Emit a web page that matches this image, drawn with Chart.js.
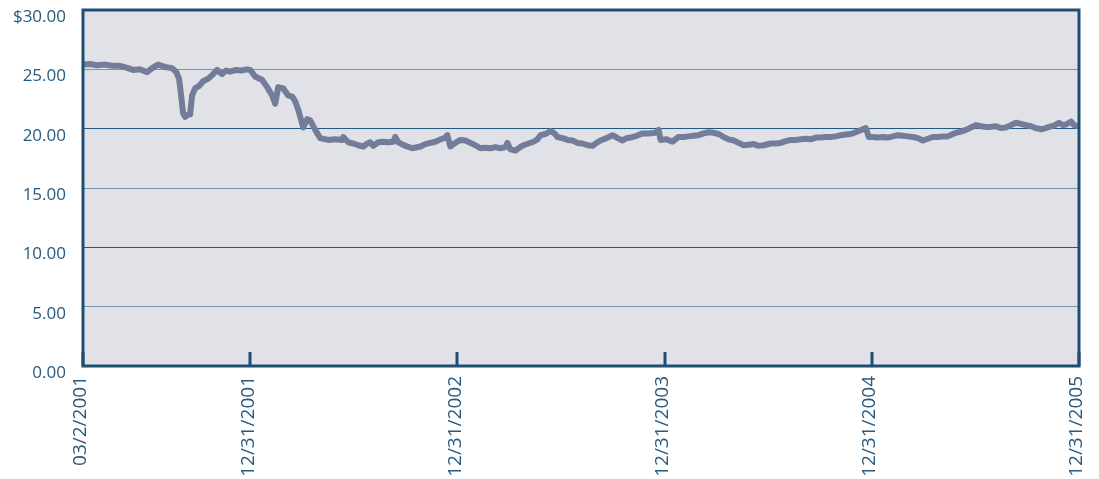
<!DOCTYPE html>
<html>
<head>
<meta charset="utf-8">
<script src="https://cdn.jsdelivr.net/npm/chart.js@4/dist/chart.umd.min.js"></script>
<style>
  html, body { margin: 0; padding: 0; background: #ffffff; }
  #wrap { width: 1099px; height: 479px; position: relative; }
</style>
</head>
<body>
<div id="wrap"><canvas id="c" width="1099" height="479"></canvas></div>
<script>
// Share price, sampled in trading weeks from 03/2/2001
const weeks = [
  0, 1.75, 3.5, 5.5, 7.25, 9.25, 11.25, 12.5, 14.25, 16, 17.25, 18.75, 20.5, 22.25, 23.25, 24, 24.5, 25, 25.5, 26.25,
  26.75, 27.25, 28, 29, 30, 31.25, 32.5, 33.5, 34.75, 35.75, 36.75, 38.25, 39.5, 41, 41.75, 43, 44.75, 46, 47.25, 48,
  48.75, 50, 51.25, 52.25, 53, 53.75, 54.25, 55, 56, 56.75, 58, 59.25, 61.25, 63, 64.75, 65, 66.25, 67.5, 68.75, 70,
  71, 71.75, 72.5, 73.75, 75, 76.25, 77.5, 78, 78.75, 80.5, 82.25, 84.25, 85.5, 86.75, 88, 89.25, 90.25, 91, 91.75, 93,
  94.25, 95.5, 96.75, 98, 99.25, 100.5, 101.75, 103, 104.25, 105.5, 106, 106.75, 108, 109, 110, 111.25, 112.5, 113.5, 114.25, 115.5,
  116.75, 117.75, 118.5, 119.75, 121, 122.25, 123.5, 124.75, 126, 127.25, 128.25, 129.25, 130.75, 132.25, 133.5, 134.75, 135.75, 136.75, 138.25, 139.75,
  141.25, 143, 143.75, 144.25, 145.75, 147.25, 148.75, 150, 151.25, 152.5, 153.75, 155, 156.25, 157.5, 158.75, 160, 161.25, 162.5, 163.75, 165,
  166.25, 167.5, 168.75, 170, 171.75, 173, 174.25, 175.5, 176.75, 178, 179.25, 180.5, 181.75, 183, 184.25, 185.5, 186.75, 188, 189.25, 190.5,
  191.75, 193, 193.75, 194.75, 195.5, 196.25, 197.25, 198.5, 199.75, 201, 202.25, 203.5, 204.75, 206, 207.25, 208.5, 209.75, 211, 212.25, 213.5,
  214.75, 216, 217, 218, 219.25, 220.5, 221.75, 223, 224.25, 225.5, 226.75, 228, 229.25, 230.5, 231.75, 233, 234.25, 235.5, 236.75, 238,
  239.25, 240.5, 241.25, 242.5, 243.75, 244.75, 245.5, 246.75, 247.5, 248.75
];
const prices = [
  25.4, 25.45, 25.35, 25.4, 25.3, 25.3, 25.1, 24.95, 25.0, 24.75, 25.1, 25.4, 25.2, 25.1, 24.8, 24.2, 22.8, 21.3, 21.0, 21.2,
  21.2, 22.8, 23.4, 23.6, 24.0, 24.2, 24.6, 24.95, 24.6, 24.9, 24.8, 24.95, 24.9, 25.0, 24.95, 24.4, 24.1, 23.5, 22.8, 22.1,
  23.5, 23.4, 22.8, 22.7, 22.3, 21.6, 21.0, 20.1, 20.8, 20.7, 19.9, 19.2, 19.05, 19.1, 19.05, 19.3, 18.85, 18.75, 18.6, 18.5,
  18.75, 18.85, 18.55, 18.85, 18.9, 18.85, 18.9, 19.3, 18.85, 18.55, 18.35, 18.5, 18.7, 18.8, 18.9, 19.1, 19.2, 19.45, 18.5, 18.8,
  19.05, 19.0, 18.8, 18.6, 18.35, 18.4, 18.35, 18.45, 18.35, 18.45, 18.8, 18.25, 18.15, 18.4, 18.6, 18.75, 18.9, 19.1, 19.45, 19.55,
  19.8, 19.6, 19.3, 19.2, 19.05, 19.0, 18.8, 18.75, 18.6, 18.55, 18.8, 19.0, 19.2, 19.45, 19.2, 19.0, 19.2, 19.25, 19.4, 19.6,
  19.6, 19.65, 19.9, 19.05, 19.1, 18.9, 19.3, 19.3, 19.35, 19.4, 19.45, 19.6, 19.7, 19.65, 19.55, 19.3, 19.1, 19.0, 18.8, 18.6,
  18.65, 18.7, 18.55, 18.6, 18.75, 18.75, 18.8, 18.95, 19.05, 19.05, 19.1, 19.15, 19.1, 19.25, 19.25, 19.3, 19.3, 19.35, 19.45, 19.5,
  19.55, 19.7, 19.8, 19.95, 20.05, 19.3, 19.3, 19.25, 19.3, 19.25, 19.35, 19.45, 19.4, 19.35, 19.3, 19.2, 19.0, 19.15, 19.3, 19.3,
  19.35, 19.35, 19.5, 19.65, 19.75, 19.9, 20.1, 20.3, 20.2, 20.15, 20.15, 20.2, 20.05, 20.1, 20.3, 20.5, 20.4, 20.3, 20.2, 20.05,
  19.95, 20.05, 20.15, 20.25, 20.5, 20.3, 20.35, 20.6, 20.3, 20.2
];
// Year-end markers along the time axis
const tickWeeks = [0, 41.75, 93.5, 145.25, 197, 248.75];
const tickLabels = ['03/2/2001', '12/31/2001', '12/31/2002', '12/31/2003', '12/31/2004', '12/31/2005'];
const yTicks = [0, 5, 10, 15, 20, 25, 30];

const NAVY = '#1e4f72';
const LABEL = '#29597d';
const FONT = { family: '"Open Sans", sans-serif', size: 17 };
const XFONT = { family: '"Open Sans", sans-serif', size: 19 };

// Shaded plot area behind the line
const plotBackground = {
  id: 'plotBackground',
  beforeDraw(chart) {
    const { ctx, chartArea: a } = chart;
    ctx.save();
    ctx.fillStyle = '#e1e2e8';
    ctx.fillRect(a.left, a.top, a.right - a.left, a.bottom - a.top);
    ctx.restore();
  }
};

// Frame around the plot and short inner tick marks at each year end
const frameAndTicks = {
  id: 'frameAndTicks',
  afterDraw(chart) {
    const { ctx, chartArea: a } = chart;
    const xs = chart.scales.x;
    ctx.save();
    ctx.strokeStyle = NAVY;
    ctx.lineWidth = 3;
    ctx.strokeRect(a.left, a.top, a.right - a.left, a.bottom - a.top);
    tickWeeks.forEach(w => {
      const px = Math.round(xs.getPixelForValue(w));
      ctx.beginPath();
      ctx.moveTo(px, a.bottom);
      ctx.lineTo(px, a.bottom - 14);
      ctx.stroke();
    });
    ctx.restore();
  }
};

new Chart(document.getElementById('c'), {
  type: 'line',
  data: {
    datasets: [{
      data: weeks.map((w, i) => ({ x: w, y: prices[i] })),
      borderColor: '#737c98',
      borderWidth: 6,
      pointRadius: 0,
      tension: 0,
      borderJoinStyle: 'round',
      borderCapStyle: 'round'
    }]
  },
  options: {
    responsive: false,
    devicePixelRatio: 1,
    animation: false,
    layout: { padding: { left: 0, top: 10, right: 20, bottom: 0 } },
    plugins: { legend: { display: false }, tooltip: { enabled: false } },
    scales: {
      x: {
        type: 'linear',
        min: 0,
        max: 248.75,
        afterBuildTicks(scale) { scale.ticks = tickWeeks.map(v => ({ value: v })); },
        afterFit(scale) {
          scale.height = 113;
          scale.paddingLeft = 0;
          scale.paddingRight = 0;
        },
        grid: { display: false, drawTicks: false },
        border: { display: false },
        ticks: {
          autoSkip: false,
          minRotation: 90,
          maxRotation: 90,
          padding: 10,
          labelOffset: -2,
          color: LABEL,
          font: XFONT,
          callback: (v, i) => tickLabels[i]
        }
      },
      y: {
        min: 0,
        max: 30,
        afterBuildTicks(scale) { scale.ticks = yTicks.map(v => ({ value: v })); },
        afterFit(scale) {
          scale.width = 83;
          scale.paddingTop = 0;
          scale.paddingBottom = 0;
        },
        grid: {
          drawTicks: false,
          lineWidth: 1,
          color: c => (c.tick && c.tick.value % 10 === 5) ? '#7895ab' : '#24597f'
        },
        border: { display: false },
        ticks: {
          padding: 17,
          labelOffset: 7,
          color: LABEL,
          font: FONT,
          callback: v => (v === 30 ? '$' : '') + v.toFixed(2)
        }
      }
    }
  },
  plugins: [plotBackground, frameAndTicks]
});
</script>
</body>
</html>
